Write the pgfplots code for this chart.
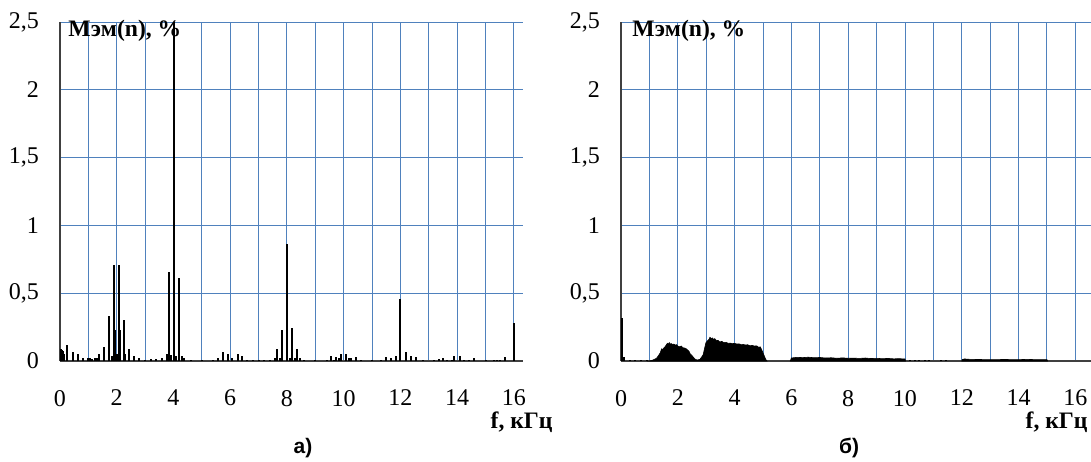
\documentclass[border=0pt]{standalone}
\usepackage{pgfplots}
\pgfplotsset{compat=1.18}
\usepackage{fontspec}
\setmainfont{Liberation Serif}
\newfontfamily\capfont{Liberation Sans}
\definecolor{gridblue}{RGB}{79,129,189}
\definecolor{axisgray}{RGB}{64,64,64}

\pgfplotsset{
  spec/.style={
    scale only axis, height=169.5pt,
    xmin=0, ymin=0, ymax=2.5,
    axis lines=left, axis line style={-, axisgray, line width=0.9pt},
    xtick={0,2,...,16}, minor xtick={1,3,...,15},
    ytick={0,0.5,1,1.5,2,2.5},
    xmajorgrids, xminorgrids, ymajorgrids,
    major grid style={gridblue, line width=0.5pt},
    minor grid style={gridblue, line width=0.5pt},
    major tick length=0pt, minor tick length=0pt,
    tick label style={font=\fontsize{12}{14}\selectfont},
    xticklabel style={yshift=-11pt},
    yticklabel style={xshift=-7pt},
    /pgf/number format/use comma,
    /pgf/number format/assume math mode=true,
  }
}

\begin{document}
\begin{tikzpicture}
\useasboundingbox (-30pt,-50pt) rectangle (515.5pt,180.5pt);

% a)
\begin{axis}[spec, at={(0pt,0pt)}, anchor=south west, width=231.5pt, xmax=16.32]
\addplot[ycomb, black, line width=1pt, mark=none] coordinates {
 (0.02,0.09) (0.06,0.08) (0.10,0.075) (0.14,0.05) (0.26,0.12) (0.45,0.07)
 (0.62,0.05) (0.80,0.025) (0.97,0.025) (1.06,0.02) (1.14,0.015) (1.22,0.02)
 (1.30,0.025) (1.38,0.05) (1.56,0.105) (1.74,0.33) (1.83,0.04) (1.91,0.71)
 (1.95,0.23) (2.00,0.05) (2.09,0.71) (2.13,0.23) (2.25,0.30) (2.30,0.05)
 (2.44,0.085) (2.62,0.04) (2.80,0.02) (3.00,0.01) (3.20,0.015) (3.40,0.015)
 (3.58,0.025) (3.76,0.055) (3.84,0.66) (3.92,0.045) (4.01,2.5) (4.10,0.04)
 (4.19,0.61) (4.30,0.04) (4.37,0.02) (4.60,0.005) (5.00,0.005) (5.40,0.01)
 (5.56,0.02) (5.74,0.07) (5.92,0.05) (6.07,0.025) (6.27,0.05) (6.43,0.04)
 (6.60,0.01) (6.80,0.01) (7.00,0.01) (7.20,0.005) (7.40,0.01) (7.57,0.02)
 (7.66,0.09) (7.75,0.02) (7.84,0.23) (8.00,0.86) (8.10,0.02) (8.19,0.24)
 (8.28,0.02) (8.37,0.09) (8.45,0.02) (8.60,0.01) (9.00,0.005) (9.40,0.005)
 (9.56,0.04) (9.65,0.01) (9.74,0.027) (9.83,0.02) (9.92,0.055) (10.09,0.055)
 (10.18,0.02) (10.27,0.02) (10.45,0.027) (10.60,0.01) (11.00,0.005) (11.30,0.01)
 (11.50,0.027) (11.66,0.02) (11.83,0.04) (12.00,0.46) (12.18,0.07) (12.36,0.04)
 (12.54,0.027) (12.80,0.01) (13.20,0.01) (13.35,0.015) (13.50,0.02) (13.65,0.01)
 (13.80,0.01) (13.90,0.04) (14.10,0.04) (14.25,0.01) (14.40,0.01) (14.60,0.02)
 (15.00,0.005) (15.30,0.01) (15.40,0.01) (15.50,0.01) (15.67,0.027) (16.00,0.28)
};
\end{axis}

% b)
\begin{axis}[spec, at={(280.5pt,0pt)}, anchor=south west, width=235pt, xmax=16.55]
\addplot[ycomb, black, line width=1pt, mark=none] coordinates {
 (0.02,0.32) (0.07,0.03) (0.11,0.03) (0.30,0.005) (0.50,0.005) (0.70,0.005) (0.90,0.005)
};
\addplot[fill=black, draw=black, line width=0.3pt] coordinates {
 (1.00,0) (1.10,0.005) (1.20,0.015) (1.25,0.02) (1.32,0.04) (1.38,0.06) (1.43,0.09)
 (1.48,0.085) (1.52,0.1) (1.55,0.105) (1.60,0.12) (1.63,0.13) (1.67,0.125) (1.70,0.135)
 (1.74,0.125) (1.78,0.128) (1.82,0.12) (1.86,0.125) (1.90,0.118) (1.96,0.12) (2.00,0.11)
 (2.07,0.105) (2.12,0.11) (2.18,0.098) (2.25,0.095) (2.30,0.09) (2.35,0.08) (2.40,0.07)
 (2.43,0.055) (2.50,0.04) (2.54,0.03) (2.60,0.015) (2.68,0.007) (2.74,0.01) (2.78,0.012)
 (2.84,0.03) (2.89,0.045) (2.94,0.09) (2.99,0.135) (3.05,0.15) (3.10,0.16) (3.13,0.175)
 (3.18,0.165) (3.22,0.17) (3.25,0.16) (3.30,0.165) (3.36,0.15) (3.42,0.152) (3.48,0.14)
 (3.55,0.145) (3.62,0.135) (3.70,0.138) (3.78,0.13) (3.85,0.132) (3.92,0.128) (4.00,0.13)
 (4.08,0.125) (4.16,0.126) (4.24,0.12) (4.30,0.122) (4.38,0.118) (4.46,0.12) (4.54,0.112)
 (4.62,0.115) (4.70,0.11) (4.78,0.112) (4.85,0.1) (4.90,0.105) (4.95,0.085) (5.00,0.06)
 (5.06,0.03) (5.10,0.01) (5.14,0)
} \closedcycle;
\addplot[fill=black, draw=black, line width=0.3pt] coordinates {
 (5.96,0) (6.00,0.022) (6.20,0.027) (6.40,0.025) (6.60,0.028) (6.80,0.024) (7.00,0.026)
 (7.20,0.022) (7.40,0.024) (7.60,0.02) (7.80,0.023) (8.00,0.02) (8.20,0.021) (8.40,0.019)
 (8.60,0.022) (8.80,0.018) (9.00,0.02) (9.20,0.017) (9.40,0.019) (9.60,0.016) (9.80,0.017)
 (10.00,0.015) (10.02,0)
} \closedcycle;
\addplot[ycomb, black, line width=1pt, mark=none] coordinates {
 (10.16,0.008) (10.34,0.008) (10.50,0.008) (10.69,0.008) (10.86,0.008) (11.28,0.008) (11.45,0.008)
};
\addplot[fill=black, draw=black, line width=0.3pt] coordinates {
 (12.00,0) (12.02,0.012) (12.10,0.015) (12.30,0.012) (12.60,0.011) (13.00,0.01) (13.50,0.011)
 (14.00,0.01) (14.30,0.012) (14.60,0.01) (15.00,0.01) (15.02,0)
} \closedcycle;
\end{axis}

\node[anchor=base west, inner sep=0pt, font=\fontsize{11.8}{13}\selectfont\bfseries] at (4pt,162pt) {Мэм(n), \%};
\node[anchor=base west, inner sep=0pt, font=\fontsize{11.8}{13}\selectfont\bfseries] at (286pt,162pt) {Мэм(n), \%};
\node[anchor=base east, inner sep=0pt, font=\fontsize{11.8}{13}\selectfont\bfseries] at (246.5pt,-33.5pt) {f, кГц};
\node[anchor=base east, inner sep=0pt, font=\fontsize{11.8}{13}\selectfont\bfseries] at (514pt,-33.5pt) {f, кГц};
\node[anchor=base, inner sep=0pt, font=\capfont\fontsize{10.5}{12}\selectfont\bfseries] at (121.5pt,-46.3pt) {а)};
\node[anchor=base, inner sep=0pt, font=\capfont\fontsize{10.5}{12}\selectfont\bfseries] at (394.5pt,-46.3pt) {б)};
\end{tikzpicture}
\end{document}
